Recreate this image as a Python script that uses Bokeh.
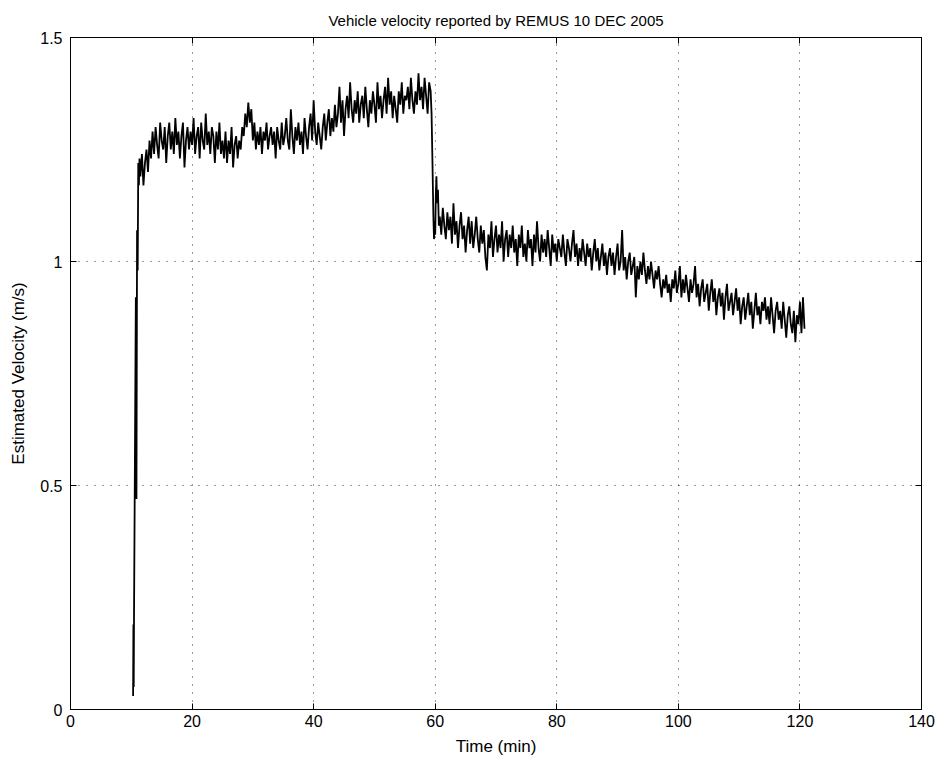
import numpy as np
from bokeh.plotting import figure
from bokeh.models import Range1d, FixedTicker, LinearAxis
from bokeh.embed import file_html
from bokeh.resources import INLINE

# ---- data ----
# launch / acceleration (explicit times, min)
rise_t = [10.3, 10.35, 10.4, 10.45, 10.6, 10.75, 10.85, 10.95, 11.05, 11.15, 11.25, 11.35]
rise_v = [0.03, 0.19, 0.05, 0.21, 0.56, 0.92, 0.47, 1.07, 0.98, 1.22, 1.17, 1.23]

# first leg, sampled every 0.25 min from 11.5 min
leg1_start = 11.5
leg1_v = [
    1.19, 1.24, 1.17, 1.22, 1.25, 1.20, 1.27, 1.23,
    1.29, 1.24, 1.30, 1.26, 1.23, 1.31, 1.27, 1.25,
    1.30, 1.22, 1.28, 1.31, 1.25, 1.29, 1.24, 1.32,
    1.26, 1.29, 1.23, 1.28, 1.31, 1.21, 1.27, 1.30,
    1.25, 1.29, 1.26, 1.32, 1.24, 1.28, 1.30, 1.23,
    1.31, 1.27, 1.25, 1.33, 1.26, 1.29, 1.24, 1.30,
    1.28, 1.22, 1.29, 1.25, 1.31, 1.24, 1.27, 1.23,
    1.29, 1.22, 1.27, 1.24, 1.30, 1.21, 1.26, 1.28,
    1.23, 1.27, 1.25, 1.30, 1.28, 1.33, 1.30, 1.355,
    1.31, 1.34, 1.27, 1.31, 1.25, 1.29, 1.26, 1.30,
    1.24, 1.29, 1.27, 1.31, 1.25, 1.28, 1.30, 1.26,
    1.29, 1.23, 1.30, 1.27, 1.25, 1.31, 1.26, 1.28,
    1.32, 1.27, 1.25, 1.34, 1.28, 1.24, 1.30, 1.27,
    1.31, 1.26, 1.29, 1.24, 1.32, 1.28, 1.25, 1.30,
    1.33, 1.27, 1.36, 1.29, 1.26, 1.31, 1.28, 1.25,
    1.30, 1.33, 1.27, 1.31, 1.34, 1.28, 1.32, 1.29,
    1.35, 1.30, 1.33, 1.39, 1.31, 1.36, 1.28, 1.34,
    1.37, 1.32, 1.40, 1.34, 1.31, 1.36, 1.33, 1.38,
    1.31, 1.35, 1.37, 1.32, 1.39, 1.34, 1.30, 1.36,
    1.33, 1.38, 1.35, 1.31, 1.40, 1.34, 1.37, 1.32,
    1.36, 1.39, 1.33, 1.41, 1.35, 1.38, 1.32, 1.37,
    1.34, 1.31, 1.38, 1.35, 1.40, 1.33, 1.37, 1.36,
    1.39, 1.34, 1.41, 1.36, 1.33, 1.38, 1.35, 1.42,
    1.36, 1.39, 1.34, 1.41, 1.37, 1.33, 1.40, 1.38,
]

# speed change near 60 min (explicit times)
drop_t = [59.4, 59.55, 59.7, 59.8, 59.9, 60.0, 60.1, 60.2, 60.3, 60.45, 60.6]
drop_v = [1.33, 1.22, 1.10, 1.05, 1.09, 1.06, 1.15, 1.19, 1.13, 1.16, 1.08]

# second leg, sampled every 0.25 min from 60.75 min
leg2_start = 60.75
leg2_v = [
    1.10, 1.06, 1.12, 1.08, 1.05, 1.11, 1.07, 1.10,
    1.04, 1.13, 1.06, 1.09, 1.03, 1.08, 1.11, 1.05,
    1.08, 1.02, 1.07, 1.10, 1.04, 1.09, 1.03, 1.06,
    1.10, 1.05, 1.02, 1.08, 1.04, 1.07, 1.01, 0.98,
    1.06, 1.03, 1.09, 1.01, 1.05, 1.08, 1.02, 1.06,
    1.03, 1.09, 1.00, 1.05, 1.07, 1.01, 1.06, 1.03,
    1.08, 1.02, 1.05, 0.99, 1.06, 1.03, 1.08, 1.01,
    1.04, 1.00, 1.07, 1.03, 1.05, 0.99, 1.06, 1.02,
    1.09, 1.03, 1.00, 1.06, 1.02, 1.05, 1.01, 1.07,
    1.03, 0.99, 1.06, 1.02, 1.04, 1.00, 1.05, 1.03,
    1.01, 1.06, 1.02, 0.99, 1.05, 1.03, 1.00, 1.04,
    1.07, 1.01, 1.04, 0.99, 1.03, 1.00, 1.05, 1.02,
    0.99, 1.04, 1.01, 1.03, 0.98, 1.02, 1.05, 1.00,
    1.03, 0.98, 1.01, 1.04, 0.99, 1.02, 0.97, 1.01,
    1.03, 0.99, 1.02, 0.97, 1.01, 1.04, 0.98, 1.00,
    1.07, 0.98, 1.01, 0.96, 1.00, 1.02, 0.97, 0.99,
    1.01, 0.92, 0.99, 0.96, 1.00, 0.97, 1.02, 0.98,
    0.95, 0.99, 0.96, 1.00, 0.97, 0.94, 0.98, 0.96,
    0.99, 0.95, 0.92, 0.96, 0.94, 0.97, 0.93, 0.95,
    0.91, 0.96, 0.94, 0.98, 0.93, 0.95, 0.99, 0.92,
    0.96, 0.93, 0.97, 0.94, 0.91, 0.96, 0.93, 0.95,
    0.99, 0.92, 0.95, 0.90, 0.94, 0.96, 0.91, 0.93,
    0.95, 0.89, 0.93, 0.96, 0.91, 0.94, 0.88, 0.92,
    0.94, 0.90, 0.93, 0.87, 0.92, 0.95, 0.89, 0.91,
    0.93, 0.88, 0.91, 0.94, 0.89, 0.92, 0.86, 0.90,
    0.92, 0.87, 0.90, 0.93, 0.88, 0.91, 0.85, 0.89,
    0.93, 0.88, 0.90, 0.86, 0.91, 0.89, 0.92, 0.87,
    0.90, 0.86, 0.92, 0.88, 0.84, 0.89, 0.91, 0.87,
    0.89, 0.85, 0.91, 0.87, 0.83, 0.88, 0.90, 0.86,
    0.84, 0.89, 0.82, 0.88, 0.86, 0.91, 0.84, 0.92,
    0.85,
]
sample_step = 0.25

x_ticks = [0, 20, 40, 60, 80, 100, 120, 140]
y_ticks = [0, 0.5, 1, 1.5]
y_tick_labels = ["0", "0.5", "1", "1.5"]

# ---- assemble series ----
leg1_t = leg1_start + sample_step * np.arange(len(leg1_v))
leg2_t = leg2_start + sample_step * np.arange(len(leg2_v))
t = np.concatenate([rise_t, leg1_t, drop_t, leg2_t])
v = np.concatenate([rise_v, leg1_v, drop_v, leg2_v])

FONT = "Liberation Sans"

p = figure(width=945, height=764, output_backend="svg", toolbar_location=None,
           x_range=Range1d(0, 140), y_range=Range1d(0, 1.5),
           title="Vehicle velocity reported by REMUS 10 DEC 2005",
           min_border_left=70, min_border_right=24, min_border_top=37, min_border_bottom=55)

p.line(t, v, line_color="black", line_width=1.8)

p.title.align = "center"
p.title.text_font = FONT
p.title.text_font_size = "15px"
p.title.text_font_style = "normal"
p.title.text_color = "black"
p.title.text_line_height = 0.6
p.title.standoff = 18

p.outline_line_color = "black"
p.outline_line_width = 1
p.outline_line_alpha = 1
p.background_fill_color = "white"
p.border_fill_color = "white"

for ax in (p.xaxis[0], p.yaxis[0]):
    ax.major_tick_in = 6
    ax.major_tick_out = 0
    ax.minor_tick_line_color = None
    ax.axis_line_color = "black"
    ax.major_tick_line_color = "black"
    ax.major_label_text_font = FONT
    ax.major_label_text_font_size = "16px"
    ax.major_label_text_color = "black"
    ax.axis_label_text_font = FONT
    ax.axis_label_text_font_size = "17px"
    ax.axis_label_text_font_style = "normal"
    ax.axis_label_text_color = "black"

p.xaxis.ticker = FixedTicker(ticks=x_ticks)
p.yaxis.ticker = FixedTicker(ticks=y_ticks)
p.yaxis.major_label_overrides = {tk: lab for tk, lab in zip(y_ticks, y_tick_labels)}
p.xaxis.axis_label = "Time (min)"
p.yaxis.axis_label = "Estimated Velocity (m/s)"
p.xaxis.major_label_standoff = 5
p.yaxis.major_label_standoff = 8
p.xaxis.axis_label_standoff = 7
p.yaxis.axis_label_standoff = 9

# ticks on top and right as in a boxed plot (no labels)
top = LinearAxis(ticker=FixedTicker(ticks=x_ticks), major_tick_in=6, major_tick_out=0,
                 minor_tick_line_color=None, major_label_standoff=0, axis_line_color="black",
                 major_label_overrides={tk: "" for tk in x_ticks})
right = LinearAxis(ticker=FixedTicker(ticks=y_ticks), major_tick_in=6, major_tick_out=0,
                   minor_tick_line_color=None, major_label_standoff=0, axis_line_color="black",
                   major_label_overrides={tk: "" for tk in y_ticks})
p.add_layout(top, "above")
p.add_layout(right, "right")

for g in (p.xgrid[0], p.ygrid[0]):
    g.grid_line_color = "black"
    g.grid_line_alpha = 0.8
    g.grid_line_dash = "1 7"
    g.grid_line_width = 1
p.xgrid.ticker = FixedTicker(ticks=x_ticks)
p.ygrid.ticker = FixedTicker(ticks=y_ticks)

open("out.html", "w").write(file_html(p, INLINE))
